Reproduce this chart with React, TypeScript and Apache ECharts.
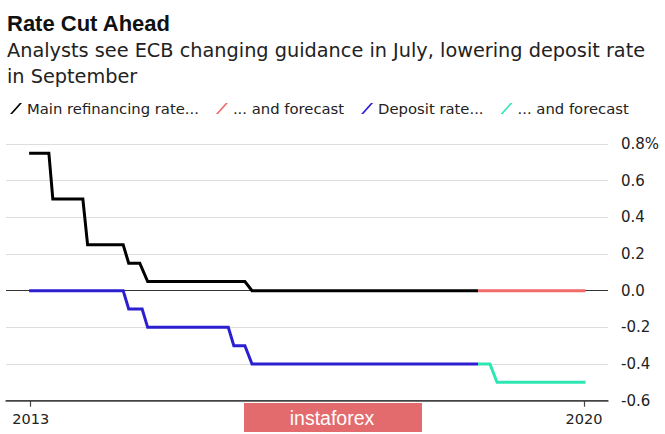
import React, { useEffect, useRef } from "react";
import * as echarts from "echarts";

const refiYears = [2012.98, 2013.23, 2013.28, 2013.66, 2013.72, 2014.17, 2014.24, 2014.38, 2014.48, 2015.71, 2015.8, 2018.66];
const refiValues = [0.75, 0.75, 0.5, 0.5, 0.25, 0.25, 0.15, 0.15, 0.05, 0.05, 0, 0];
const refiForecastYears = [2018.66, 2020.02];
const refiForecastValues = [0, 0];
const depositYears = [2012.98, 2014.17, 2014.24, 2014.41, 2014.48, 2015.5, 2015.57, 2015.71, 2015.8, 2018.66];
const depositValues = [0, 0, -0.1, -0.1, -0.2, -0.2, -0.3, -0.3, -0.4, -0.4];
const depositForecastYears = [2018.66, 2018.81, 2018.9, 2020.02];
const depositForecastValues = [-0.4, -0.4, -0.5, -0.5];
const xTickYears = [2013, 2020];
const legendNames = ["Main refinancing rate...", "... and forecast", "Deposit rate...", "... and forecast "];
const colors = ["#000000", "#f26b6b", "#2c1fd0", "#2ee6b4"];

const zip = (xs: number[], ys: number[]) => xs.map((x, i) => [x, ys[i]]);

export default function App() {
  const ref = useRef<HTMLDivElement>(null);
  useEffect(() => {
    document.body.style.margin = "0";
    const chart = echarts.init(ref.current!, undefined, { renderer: "svg" });
    const bold = "'Liberation Sans', Arial, Helvetica, sans-serif";
    const font = "'DejaVu Sans', 'Liberation Sans', Arial, sans-serif";
    const seriesData = [
      zip(refiYears, refiValues),
      zip(refiForecastYears, refiForecastValues),
      zip(depositYears, depositValues),
      zip(depositForecastYears, depositForecastValues),
    ];
    chart.setOption({
      animation: false,
      backgroundColor: "#ffffff",
      textStyle: { fontFamily: font },
      title: {
        text: "Rate Cut Ahead",
        subtext: "Analysts see ECB changing guidance in July, lowering deposit rate\nin September",
        left: 2,
        top: 7,
        itemGap: 3,
        textStyle: { fontSize: 22, fontWeight: "bold", color: "#111", fontFamily: bold },
        subtextStyle: { fontSize: 19.3, lineHeight: 26, color: "#222", fontFamily: font },
      },
      legend: {
        left: 5,
        top: 96,
        itemGap: 17,
        itemWidth: 12,
        itemHeight: 11,
        icon: "path://M0,11 L2.2,11 L12,0 L9.8,0 Z",
        formatter: (name: string) => name.trim(),
        textStyle: { fontSize: 14.8, color: "#222", fontFamily: font },
        data: legendNames,
      },
      grid: { left: 6, right: 57, top: 144, bottom: 33.3, containLabel: false },
      xAxis: {
        type: "value",
        min: 2012.6875,
        max: 2020.304,
        splitLine: { show: false },
        axisLine: { onZero: false, lineStyle: { color: "#444", width: 1.5 } },
        axisTick: { customValues: xTickYears, length: 6, lineStyle: { color: "#444", width: 1.2 } },
        axisLabel: {
          customValues: xTickYears,
          formatter: (v: number) => String(Math.round(v)),
          fontSize: 14.5,
          color: "#222",
          margin: 11,
          fontFamily: font,
        },
      },
      yAxis: {
        type: "value",
        position: "right",
        min: -0.6,
        max: 0.8,
        interval: 0.2,
        axisLine: { show: false },
        axisTick: { show: false },
        axisLabel: {
          margin: 13,
          fontSize: 15,
          color: "#222",
          fontFamily: font,
          formatter: (v: number) => {
            const r = Math.round(v * 10) / 10;
            const s = (r === 0 ? 0 : r).toFixed(1);
            return Math.abs(r - 0.8) < 1e-9 ? s + "%" : s;
          },
        },
        splitLine: {
          lineStyle: {
            color: ["#444", "#dddddd", "#dddddd", "#333", "#dddddd", "#dddddd", "#dddddd", "#dddddd"],
            width: 1,
          },
        },
      },
      series: legendNames.map((name, i) => ({
        name,
        type: "line",
        data: seriesData[i],
        symbol: "none",
        color: colors[i],
        lineStyle: { color: colors[i], width: 3, join: "miter" },
        itemStyle: { color: colors[i] },
        z: 3,
      })),
      graphic: [
        {
          type: "rect",
          shape: { x: 244, y: 403, width: 178, height: 29 },
          style: { fill: "#e36b6e" },
          z: 10,
        },
        {
          type: "text",
          x: 332,
          y: 418,
          style: {
            text: "instaforex",
            fill: "#ffffff",
            fontSize: 19.5,
            fontFamily: "'Liberation Sans', Arial, sans-serif",
            align: "center",
            verticalAlign: "middle",
          },
          z: 11,
        },
      ],
    });
    return () => chart.dispose();
  }, []);
  return <div ref={ref} style={{ width: 665, height: 434 }} />;
}
